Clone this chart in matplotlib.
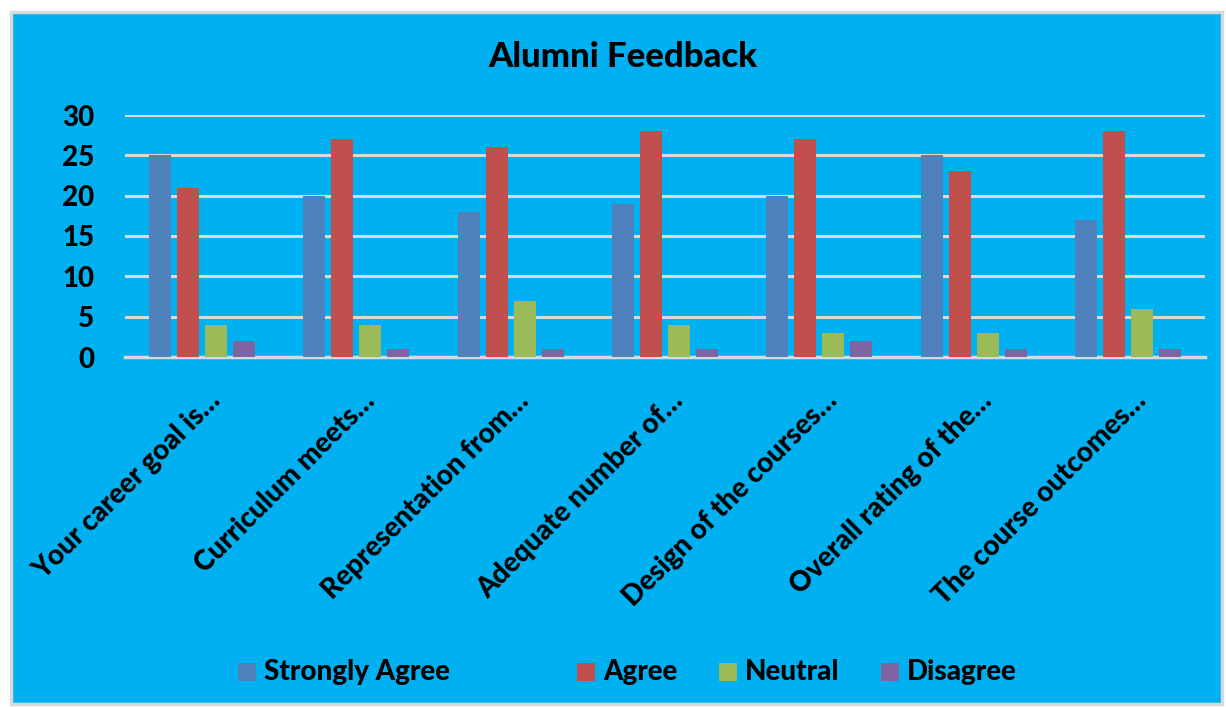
import matplotlib
matplotlib.use("Agg")
import matplotlib.pyplot as plt
from matplotlib.patches import Rectangle
import numpy as np

categories = ["Your career goal is…", "Curriculum meets…", "Representation from…",
              "Adequate number of…", "Design of the courses…", "Overall rating of the…",
              "The course outcomes…"]
series_names = ["Strongly Agree", "Agree", "Neutral", "Disagree"]
strongly_agree = [25, 20, 18, 19, 20, 25, 17]
agree = [21, 27, 26, 28, 27, 23, 28]
neutral = [4, 4, 7, 4, 3, 3, 6]
disagree = [2, 1, 1, 1, 2, 1, 1]
yticks = [0, 5, 10, 15, 20, 25, 30]
title = "Alumni Feedback"

colors = ["#4F81BD", "#C0504D", "#9BBB59", "#8064A2"]
BG = "#00B0F0"
GRID = "#D9D9D9"
FONT = "Lato"
FW = 900
FS = 20

W, H = 1226, 707
fig = plt.figure(figsize=(W / 100, H / 100), dpi=100, facecolor="white")
fig.patches.append(Rectangle((11 / W, 1 - 704 / H), (1222 - 11) / W, (704 - 12) / H,
                             transform=fig.transFigure, facecolor=BG,
                             edgecolor=GRID, linewidth=2.5, zorder=0))

ax = fig.add_axes([125 / W, 1 - 357 / H, (1205 - 125) / W, (357 - 115) / H])
ax.set_facecolor("none")
ax.set_zorder(5)

data = [strongly_agree, agree, neutral, disagree]
x = np.arange(len(categories))
bw = 22 / 154.3
step = 28 / 154.3
for i, (vals, c) in enumerate(zip(data, colors)):
    ax.bar(x + (i - 1.5) * step, vals, width=bw, color=c, zorder=3, linewidth=0)

ax.set_xlim(-0.5, len(categories) - 0.5)
ax.set_ylim(0, 30)
ax.set_yticks(yticks)
ax.yaxis.grid(True, color=GRID, linewidth=2.2, zorder=1)
ax.set_axisbelow(True)
for s in ["top", "right", "left"]:
    ax.spines[s].set_visible(False)
ax.spines["bottom"].set_color(GRID)
ax.spines["bottom"].set_linewidth(2.5)
ax.tick_params(axis="both", length=0)
ax.tick_params(axis="y", pad=22)
for lab in ax.get_yticklabels():
    lab.set_fontfamily(FONT)
    lab.set_fontweight(FW)
    lab.set_fontsize(FS)

ax.set_xticks(x + 0.03)
ax.set_xticklabels(categories, rotation=45, ha="right", va="top",
                   rotation_mode="anchor", fontfamily=FONT, fontweight=FW,
                   fontsize=FS)
ax.tick_params(axis="x", pad=22)

fig.text(623 / W, 1 - 57 / H, title, ha="center", va="center",
         fontfamily=FONT, fontweight=FW, fontsize=25)

# legend
leg_y = 672
sq = 18
sq_x = [238, 577, 719, 881]
for name, c, sx in zip(series_names, colors, sq_x):
    fig.patches.append(Rectangle((sx / W, 1 - (leg_y + sq / 2) / H), sq / W, sq / H,
                                 transform=fig.transFigure, facecolor=c,
                                 edgecolor="none", zorder=2))
    fig.text((sx + sq + 8) / W, 1 - leg_y / H, name, ha="left", va="center",
             fontfamily=FONT, fontweight=FW, fontsize=FS, zorder=3)

fig.savefig("out.png", dpi=100, facecolor="white")
